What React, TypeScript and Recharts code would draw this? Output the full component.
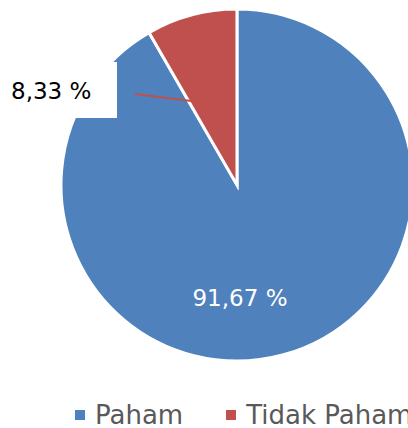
import React from 'react';
import { PieChart, Pie, Cell, Legend } from 'recharts';

const categories = ['Paham', 'Tidak Paham'];
const values = [91.67, 8.33];
const labels = ['91,67 %', '8,33 %'];
const colors = ['#4F81BD', '#C0504D'];

const data = categories.map((name, i) => ({ name, value: values[i], label: labels[i] }));

const FONT = '"DejaVu Sans", sans-serif';

function SliceLabel(props: any) {
  const { cx, cy, midAngle, outerRadius, index } = props;
  const rad = Math.PI / 180;
  if (index === 0) {
    return (
      <text x={cx + 3} y={cy + 113} fill="#fff" fontSize={23} fontFamily={FONT} textAnchor="middle" dominantBaseline="central">
        {labels[0]}
      </text>
    );
  }
  // outside label with leader line, like the spreadsheet callout
  const ex = cx + outerRadius * 0.5 * Math.cos(-(midAngle + 6) * rad);
  const ey = cy + outerRadius * 0.5 * Math.sin(-(midAngle + 6) * rad);
  const sx = cx - 102;
  const sy = cy - 91;
  return (
    <g>
      <rect x={cx - 227} y={cy - 123} width={107} height={56} fill="#fff" />
      <line x1={sx} y1={sy} x2={ex} y2={ey} stroke="#C0504D" strokeWidth={2} />
      <text x={cx - 226} y={cy - 94} fill="#000" fontSize={23} fontFamily={FONT} dominantBaseline="central">
        {labels[1]}
      </text>
    </g>
  );
}

function LegendContent() {
  return (
    <div style={{ display: 'flex', alignItems: 'center', fontFamily: FONT, fontSize: 26, color: '#595959', whiteSpace: 'nowrap' }}>
      {categories.map((c, i) => (
        <div key={c} style={{ display: 'flex', alignItems: 'center', marginRight: 43 }}>
          <span style={{ display: 'inline-block', width: 10, height: 10, background: colors[i], marginRight: 10 }} />
          <span>{c}</span>
        </div>
      ))}
    </div>
  );
}

export default function App() {
  return (
    <div style={{ position: 'absolute', left: 0, top: 0, width: 408, height: 428, background: '#fff', overflow: 'hidden' }}>
      <PieChart width={408} height={428} margin={{ top: 0, right: 0, bottom: 0, left: 0 }}>
        <Pie
          data={data}
          dataKey="value"
          nameKey="name"
          cx={237}
          cy={185}
          outerRadius={176}
          startAngle={120}
          endAngle={480}
          stroke="#fff"
          strokeWidth={3}
          label={<SliceLabel />}
          labelLine={false}
          isAnimationActive={false}
        >
          {data.map((d, i) => (
            <Cell key={d.name} fill={colors[i]} />
          ))}
        </Pie>
        <Legend
          content={<LegendContent />}
          wrapperStyle={{ position: 'absolute', left: 75, top: 400, width: 420 }}
        />
      </PieChart>
    </div>
  );
}
